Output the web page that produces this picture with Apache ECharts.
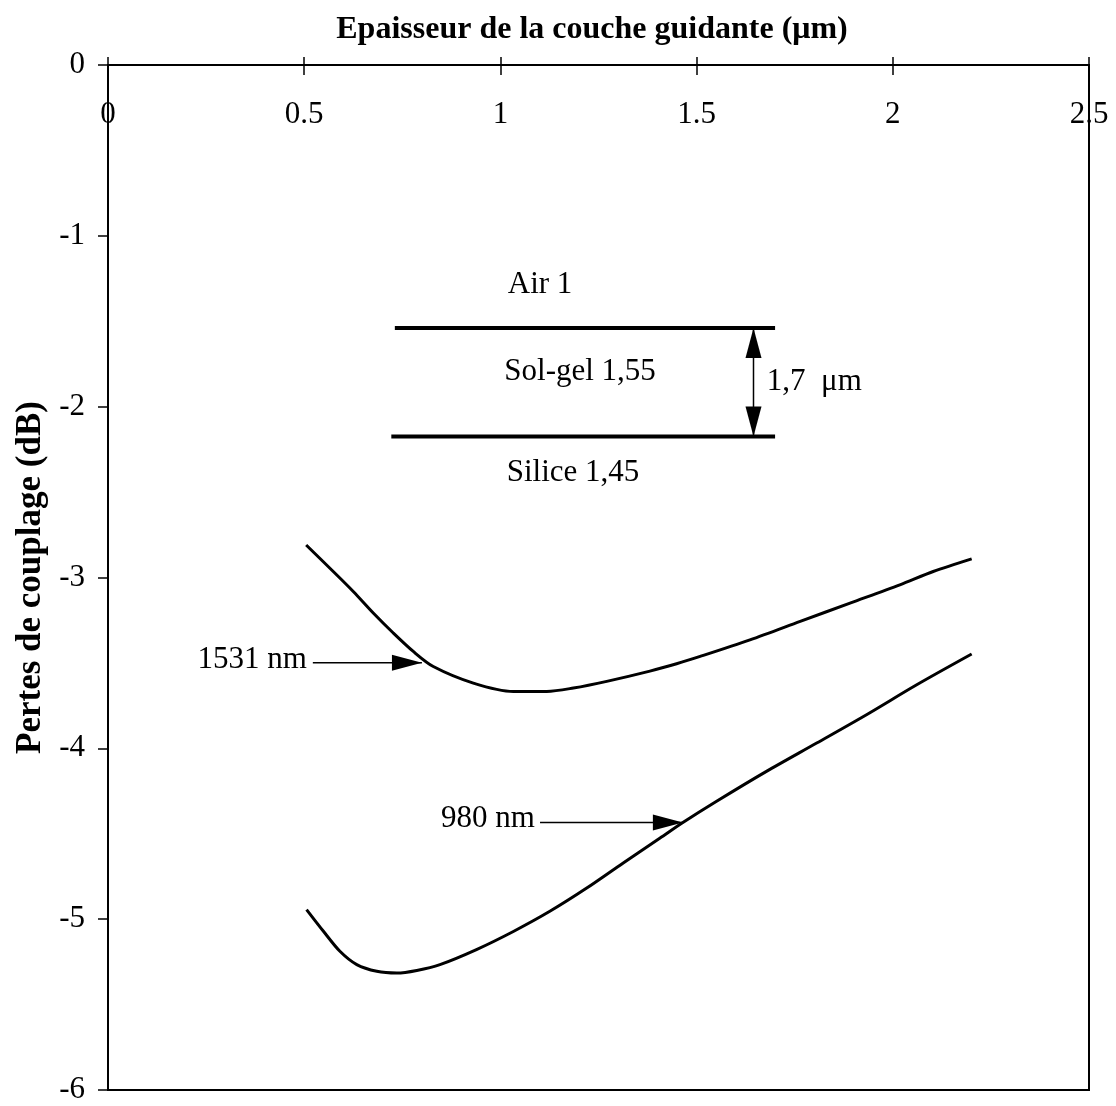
<!DOCTYPE html>
<html>
<head>
<meta charset="utf-8">
<script src="https://cdn.jsdelivr.net/npm/echarts@6/dist/echarts.min.js"></script>
<style>html,body{margin:0;padding:0;background:#fff;}#c{width:1116px;height:1106px;}</style>
</head>
<body>
<div id="c"></div>
<script>
// ---- data ----
var xTicks = [0, 0.5, 1, 1.5, 2, 2.5];
var yTicks = [0, -1, -2, -3, -4, -5, -6];
var x1531 = [0.505, 0.574, 0.625, 0.676, 0.727, 0.778, 0.829, 0.931, 1.033, 1.118, 1.186, 1.271, 1.381, 1.449, 1.509, 1.636, 1.764, 1.891, 2.018, 2.103, 2.201];
var y1531 = [-2.81, -2.965, -3.082, -3.208, -3.325, -3.433, -3.521, -3.618, -3.667, -3.667, -3.647, -3.608, -3.548, -3.505, -3.462, -3.365, -3.257, -3.15, -3.043, -2.965, -2.891];
var x980 = [0.506, 0.549, 0.591, 0.634, 0.685, 0.736, 0.787, 0.846, 0.939, 1.033, 1.126, 1.220, 1.313, 1.407, 1.466, 1.551, 1.678, 1.806, 1.933, 2.061, 2.201];
var y980 = [-4.944, -5.071, -5.188, -5.266, -5.305, -5.315, -5.30, -5.266, -5.178, -5.072, -4.954, -4.818, -4.671, -4.525, -4.433, -4.31, -4.135, -3.969, -3.803, -3.628, -3.448];
// layer diagram lines (x start, x end, y)
var layerLines = [[0.731, 1.700, -1.54], [0.722, 1.700, -2.175]];
// arrows: [x1, y1, x2, y2, headAtStart, headAtEnd]
var arrows = [[1.645, -1.54, 1.645, -2.175, 1, 1], [0.522, -3.499, 0.800, -3.499, 0, 1], [1.101, -4.434, 1.465, -4.434, 0, 1]];
// text annotations
var annoText = ['Air 1', 'Sol-gel 1,55', '1,7  \u03bcm', 'Silice 1,45', '1531 nm', '980 nm'];
var annoX = [1.101, 1.203, 1.679, 1.185, 0.507, 1.088];
var annoY = [-1.287, -1.796, -1.855, -2.387, -3.482, -4.412];
var annoAlign = ['center', 'center', 'left', 'center', 'right', 'right'];

var FONT = '"Liberation Serif", "Times New Roman", serif';

function zip(xs, ys) { return xs.map(function (x, i) { return [x, ys[i]]; }); }

var series = [
  { name: '1531 nm', type: 'line', data: zip(x1531, y1531), smooth: 0.3, showSymbol: false, symbol: 'none',
    lineStyle: { color: '#000', width: 3 }, z: 5 },
  { name: '980 nm', type: 'line', data: zip(x980, y980), smooth: 0.3, showSymbol: false, symbol: 'none',
    lineStyle: { color: '#000', width: 3 }, z: 5 }
];
layerLines.forEach(function (l, i) {
  series.push({ name: 'layer' + i, type: 'line', data: [[l[0], l[2]], [l[1], l[2]]], symbol: 'none',
    lineStyle: { color: '#000', width: 4 }, z: 5 });
});
series.push({
  name: 'arrows', type: 'custom', data: arrows, z: 6,
  renderItem: function (params, api) {
    var p1 = api.coord([api.value(0), api.value(1)]);
    var p2 = api.coord([api.value(2), api.value(3)]);
    var dx = p2[0] - p1[0], dy = p2[1] - p1[1];
    var len = Math.sqrt(dx * dx + dy * dy);
    var ux = dx / len, uy = dy / len, nx = -uy, ny = ux;
    var L = 30, W = 8;
    var children = [{ type: 'line', shape: { x1: p1[0], y1: p1[1], x2: p2[0], y2: p2[1] },
      style: { stroke: '#000', lineWidth: 1.5 } }];
    function head(tip, dirx, diry) {
      var bx = tip[0] - dirx * L, by = tip[1] - diry * L;
      children.push({ type: 'polygon', shape: { points: [tip, [bx + nx * W, by + ny * W], [bx - nx * W, by - ny * W]] },
        style: { fill: '#000' } });
    }
    if (api.value(4)) head(p1, -ux, -uy);
    if (api.value(5)) head(p2, ux, uy);
    return { type: 'group', children: children };
  }
});
series.push({
  name: 'labels', type: 'scatter', symbolSize: 0, z: 7,
  itemStyle: { opacity: 1 },
  data: annoText.map(function (t, i) {
    return { name: t, value: [annoX[i], annoY[i]],
      label: { show: true, position: 'inside', align: annoAlign[i], verticalAlign: 'middle', opacity: 1,
        formatter: '{b}', color: '#000', textBorderWidth: 0, fontFamily: FONT, fontSize: 31 } };
  })
});

var chart = echarts.init(document.getElementById('c'), null, { renderer: 'canvas' });
chart.setOption({
  animation: false,
  backgroundColor: '#fff',
  grid: { left: 108, right: 27, top: 65, bottom: 16, containLabel: false, outerBoundsMode: 'none',
    show: true, borderColor: '#000', borderWidth: 2, backgroundColor: 'transparent' },
  xAxis: [
    { type: 'value', position: 'top', min: xTicks[0], max: xTicks[xTicks.length - 1], interval: 0.5,
      name: 'Epaisseur de la couche guidante (\u03bcm)', nameLocation: 'middle', nameGap: 19, nameMoveOverlap: false,
      nameTextStyle: { fontFamily: FONT, fontWeight: 'bold', fontSize: 32, color: '#000', padding: [0, 13, 0, 0] },
      axisLine: { show: true, lineStyle: { color: '#000', width: 2 } },
      axisTick: { show: true, length: 8, lineStyle: { color: '#000', width: 1.5 } },
      axisLabel: { inside: true, margin: 34, fontFamily: FONT, fontSize: 31, color: '#000', showMinLabel: true, showMaxLabel: true,
        hideOverlap: false, formatter: function (v) { return String(v); } },
      splitLine: { show: false } },
    { type: 'value', position: 'top', min: xTicks[0], max: xTicks[xTicks.length - 1], interval: 0.5,
      axisLine: { show: false }, axisTick: { show: true, inside: true, length: 10, lineStyle: { color: '#000', width: 1.5 } },
      axisLabel: { show: false }, splitLine: { show: false } }
  ],
  yAxis: {
    type: 'value', min: yTicks[yTicks.length - 1], max: yTicks[0], interval: 1,
    name: 'Pertes de couplage (dB)', nameLocation: 'middle', nameGap: 60, nameMoveOverlap: false,
    nameTextStyle: { fontFamily: FONT, fontWeight: 'bold', fontSize: 35, color: '#000' },
    axisLine: { show: true, lineStyle: { color: '#000', width: 2 } },
    axisTick: { show: true, length: 10, lineStyle: { color: '#000', width: 1.5 } },
    axisLabel: { margin: 23, fontFamily: FONT, fontSize: 31, color: '#000' },
    splitLine: { show: false }
  },
  series: series
});
</script>
</body>
</html>
